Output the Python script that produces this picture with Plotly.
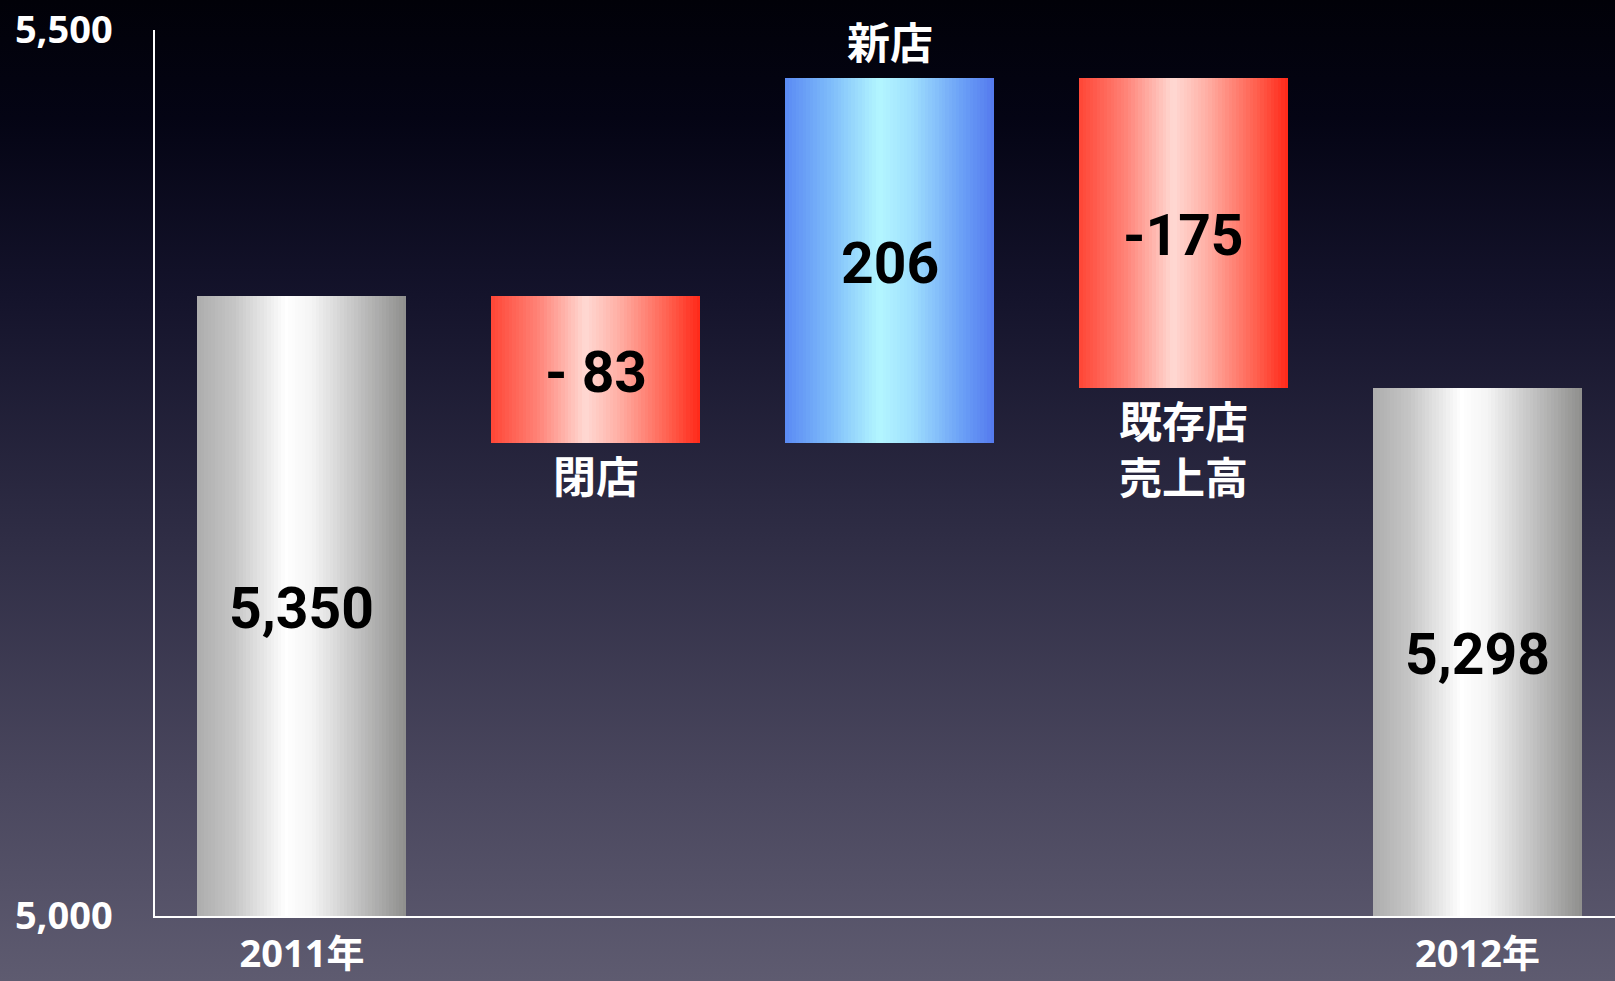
import base64
import plotly.graph_objects as go

# ---------------- data ----------------
categories = ["2011年", "閉店", "新店", "既存店<br>売上高", "2012年"]
values = [5350, -83, 206, -175, 5298]
kinds = ["total", "delta", "delta", "delta", "total"]
value_labels = ["5,350", "- 83", "206", "-175", "5,298"]
y_ticks = [5000, 5500]
y_tick_labels = ["5,000", "5,500"]
y_range = [5000, 5500]

# ---------------- geometry from data ----------------
xpos = list(range(len(categories)))
bases, heights, mids = [], [], []
running = 0
for v, k in zip(values, kinds):
    if k == "total":
        b, h = 0, v
        running = v
    else:
        b, h = min(running, running + v), abs(v)
        running += v
    bases.append(b)
    heights.append(h)
    lo = max(b, y_range[0])
    mids.append((lo + b + h) / 2)

GRAY = [(0, "#adadad"), (0.18, "#c6c6c6"), (0.42, "#ffffff"), (0.55, "#f4f4f4"), (0.8, "#bababa"), (1, "#8e8e8c")]
RED = [(0, "#ff4636"), (0.22, "#ff8276"), (0.45, "#ffd9d3"), (0.6, "#ffb2a8"), (0.85, "#ff5f4e"), (1, "#ff2818")]
BLUE = [(0, "#5a8af4"), (0.22, "#7fbdfa"), (0.45, "#b3f6ff"), (0.6, "#a0e0fe"), (0.85, "#6a9ff6"), (1, "#5479ee")]


def style_for(v, k):
    if k == "total":
        return GRAY
    return BLUE if v > 0 else RED


def interp(stops, t):
    for (t0, c0), (t1, c1) in zip(stops[:-1], stops[1:]):
        if t0 <= t <= t1:
            f = (t - t0) / (t1 - t0) if t1 > t0 else 0
            a = [int(c0[i:i + 2], 16) for i in (1, 3, 5)]
            b = [int(c1[i:i + 2], 16) for i in (1, 3, 5)]
            return "rgb(%d,%d,%d)" % tuple(round(a[j] + (b[j] - a[j]) * f) for j in range(3))
    return stops[-1][1]


W = 0.711
N = 60
step = W / N

fig = go.Figure()
for i in range(N):
    t = (i + 0.5) / N
    wid = min(step * 1.6, W - i * step)
    fig.add_trace(go.Bar(
        x=xpos, y=heights, base=bases,
        width=[wid] * len(xpos), offset=[-W / 2 + i * step] * len(xpos),
        marker=dict(color=[interp(style_for(v, k), t) for v, k in zip(values, kinds)],
                    line=dict(width=0)),
        hoverinfo="skip", showlegend=False,
    ))

# value labels inside bars
for x, m, lab in zip(xpos, mids, value_labels):
    fig.add_annotation(x=x, y=m, text=lab, showarrow=False, yanchor="middle", yshift=-3,
                       font=dict(family="Roboto, sans-serif", size=57, color="#000000", weight="bold"))

# category labels for the change bars
for x, v, k, b, h, c in zip(xpos, values, kinds, bases, heights, categories):
    if k == "total":
        continue
    if v > 0:
        fig.add_annotation(x=x, y=b + h, text=c, showarrow=False, yanchor="bottom", yshift=5,
                           font=dict(family="Noto Sans CJK JP", size=43, color="white", weight="bold"))
    else:
        fig.add_annotation(x=x, y=b, text=c, showarrow=False, yanchor="top", yshift=2,
                           font=dict(family="Noto Sans CJK JP", size=43, color="white", weight="bold"))

# background gradient
svg = ("<svg xmlns='http://www.w3.org/2000/svg' viewBox='0 0 100 100' preserveAspectRatio='none'>"
       "<defs><linearGradient id='g' x1='0' y1='0' x2='0' y2='1'>"
       "<stop offset='0' stop-color='#010108'/>"
       "<stop offset='0.12' stop-color='#040414'/>"
       "<stop offset='0.3' stop-color='#14132b'/>"
       "<stop offset='0.55' stop-color='#2f2d45'/>"
       "<stop offset='0.8' stop-color='#4a475e'/>"
       "<stop offset='1' stop-color='#5e5b70'/>"
       "</linearGradient></defs><rect width='100' height='100' fill='url(#g)'/></svg>")
src = "data:image/svg+xml;base64," + base64.b64encode(svg.encode()).decode()

L, R, T, B = 155, 0, 30, 65
PW, PH = 1615 - L - R, 981 - T - B
fig.add_layout_image(dict(source=src, xref="paper", yref="paper",
                          x=-L / PW, y=1 + T / PH, sizex=1615 / PW, sizey=981 / PH,
                          xanchor="left", yanchor="top", sizing="stretch", layer="below"))

tot_idx = [i for i, k in enumerate(kinds) if k == "total"]
fig.update_layout(
    width=1615, height=981,
    margin=dict(l=L, r=R, t=T, b=B, autoexpand=False),
    paper_bgcolor="#5e5b70", plot_bgcolor="rgba(0,0,0,0)",
    barmode="overlay", bargap=0,
    xaxis=dict(range=[-0.5, -0.5 + PW / 293.9], tickvals=tot_idx,
               ticktext=[categories[i] for i in tot_idx], automargin=False,
               showgrid=False, zeroline=False, showline=True, linecolor="white", linewidth=1.5,
               ticks="", ticklabelstandoff=4,
               tickfont=dict(family="Open Sans, Noto Sans CJK JP", size=38, color="white", weight="bold")),
    yaxis=dict(range=y_range, tickvals=y_ticks, ticktext=y_tick_labels, automargin=False,
               showgrid=False, zeroline=False, showline=True, linecolor="white", linewidth=1.5,
               ticks="", ticklabelstandoff=33,
               tickfont=dict(family="Open Sans", size=38, color="white", weight="bold")),
)

fig.write_html("out.html", config={"displayModeBar": False},
               post_script="document.body.style.margin='0';document.body.style.overflow='hidden';"
                           "document.body.style.background='#5e5b70';")
